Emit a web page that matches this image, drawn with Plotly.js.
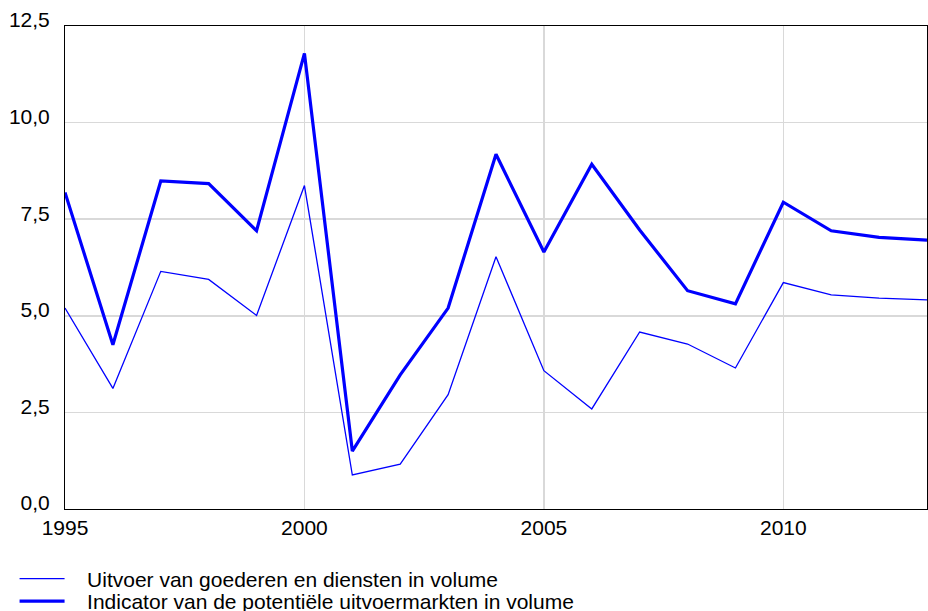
<!DOCTYPE html>
<html>
<head>
<meta charset="utf-8">
<script src="https://cdn.plot.ly/plotly-3.0.1.min.js"></script>
<style>html,body{margin:0;padding:0;background:#fff;}#chart{width:928px;height:611px;}</style>
</head>
<body>
<div id="chart"></div>
<script>
const years = [1995,1996,1997,1998,1999,2000,2001,2002,2003,2004,2005,2006,2007,2008,2009,2010,2011,2012,2013];
const uitvoer = [5.20,3.12,6.15,5.94,5.01,8.37,0.88,1.16,2.96,6.53,3.58,2.59,4.58,4.27,3.65,5.86,5.54,5.46,5.41];
const indicator = [8.19,4.25,8.49,8.42,7.20,11.79,1.50,3.47,5.20,9.18,6.65,8.92,7.22,5.65,5.31,7.94,7.20,7.03,6.96];
const seriesNames = ["Uitvoer van goederen en diensten in volume", "Indicator van de potentiële uitvoermarkten in volume"];
const xTicks = [1995,2000,2005,2010];
const yTicks = [0,2.5,5,7.5,10,12.5];

const FONT = "Liberation Sans, Arial, Helvetica, sans-serif";
const FS = 21;
const PAD = "\u00a0\u00a0\u00a0";
const traces = [
  {x: years, y: uitvoer, name: PAD + seriesNames[0], type: "scatter", mode: "lines",
   line: {color: "#0000ff", width: 1.3}, legend: "legend"},
  {x: years, y: indicator, name: PAD + seriesNames[1], type: "scatter", mode: "lines",
   line: {color: "#0000ff", width: 3.2}, legend: "legend2"}
];
const legBase = {orientation: "v", x: -0.0585, xanchor: "left", yanchor: "middle",
  font: {family: FONT, size: FS, color: "#000"}, itemwidth: 45, bgcolor: "rgba(0,0,0,0)"};
const layout = {
  width: 928, height: 611,
  margin: {l: 65, r: 1, t: 26, b: 102, pad: 0, autoexpand: false},
  paper_bgcolor: "#fff", plot_bgcolor: "#fff",
  separators: ",.",
  font: {family: FONT, size: FS, color: "#000"},
  showlegend: true,
  legend: Object.assign({}, legBase, {y: -0.1449}),
  legend2: Object.assign({}, legBase, {y: -0.1915}),
  xaxis: {range: [1995, 2013], tickvals: xTicks, ticktext: xTicks.map(String),
          showgrid: true, gridcolor: "#d9d9d9", gridwidth: 1.5,
          showline: true, linecolor: "#000", linewidth: 1, mirror: true,
          ticks: "", zeroline: false, ticklabelstandoff: 0, tickfont: {family: FONT, size: FS}},
  yaxis: {range: [0, 12.5], tickvals: yTicks, tickformat: ".1f",
          showgrid: true, gridcolor: "#d9d9d9", gridwidth: 1.5,
          showline: true, linecolor: "#000", linewidth: 1, mirror: true,
          ticks: "", zeroline: false, ticklabelshift: -6, ticklabelstandoff: 10,
          tickfont: {family: FONT, size: FS}}
};
Plotly.newPlot("chart", traces, layout, {displayModeBar: false, staticPlot: true});
</script>
</body>
</html>
